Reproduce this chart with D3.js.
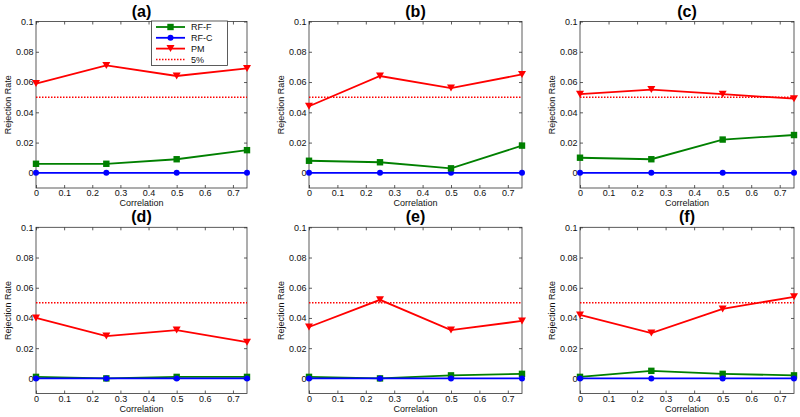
<!DOCTYPE html>
<html><head><meta charset="utf-8">
<script src="https://cdn.jsdelivr.net/npm/d3@7"></script>
<style>body{margin:0;background:#fff}svg{display:block}text{font-family:Arial,"Liberation Sans",sans-serif}</style>
</head><body><svg id="c" width="800" height="417"></svg>
<script>
const correlations = [0, 0.25, 0.5, 0.75];
const panelTitles = ["(a)", "(b)", "(c)", "(d)", "(e)", "(f)"];
const rfF = [
  [0.006, 0.006, 0.009, 0.015],
  [0.008, 0.007, 0.003, 0.018],
  [0.010, 0.009, 0.022, 0.025],
  [0.001, 0.000, 0.001, 0.001],
  [0.001, 0.000, 0.002, 0.003],
  [0.001, 0.005, 0.003, 0.002]
];
const rfC = [
  [0, 0, 0, 0], [0, 0, 0, 0], [0, 0, 0, 0],
  [0, 0, 0, 0], [0, 0, 0, 0], [0, 0, 0, 0]
];
const pm = [
  [0.059, 0.071, 0.064, 0.069],
  [0.044, 0.064, 0.056, 0.065],
  [0.052, 0.055, 0.052, 0.049],
  [0.040, 0.028, 0.032, 0.024],
  [0.034, 0.052, 0.032, 0.038],
  [0.042, 0.030, 0.046, 0.054]
];
const nominal = 0.05;
const xTicks = [0, 0.1, 0.2, 0.3, 0.4, 0.5, 0.6, 0.7];
const yTicks = [0, 0.02, 0.04, 0.06, 0.08, 0.1];
const seriesNames = ["RF-F", "RF-C", "PM", "5%"];

const svg = d3.select("#c");
const panelsX = [[36, 247], [309, 522], [580, 794]];
const panelsY = [[21.5, 188], [227.3, 393.5]];
const colors = {g: "#008000", b: "#0000ff", r: "#ff0000"};
const axisCol = "#333";

function marker(g, type, x, y, col) {
  if (type === "square") {
    g.append("rect").attr("x", x - 3.2).attr("y", y - 3.2).attr("width", 6.4).attr("height", 6.4).attr("fill", col);
  } else if (type === "circle") {
    g.append("circle").attr("cx", x).attr("cy", y).attr("r", 3).attr("fill", col);
  } else {
    g.append("path").attr("d", `M${x-4},${y-3.5}L${x+4},${y-3.5}L${x},${y+3.5}Z`).attr("fill", col);
  }
}

for (let i = 0; i < 6; i++) {
  const col = i % 3, row = Math.floor(i / 3);
  const [x0, x1] = panelsX[col];
  const [y0, y1] = panelsY[row];
  const x = d3.scaleLinear().domain([0, 0.75]).range([x0, x1]);
  const y = d3.scaleLinear().domain([-0.01, 0.1]).range([y1, y0]);
  const g = svg.append("g");

  g.append("rect").attr("x", x0).attr("y", y0).attr("width", x1 - x0).attr("height", y1 - y0)
    .attr("fill", "none").attr("stroke", axisCol).attr("stroke-width", 0.8);

  const xa = g.append("g").attr("transform", `translate(0,${y1})`)
    .call(d3.axisBottom(x).tickValues(xTicks).tickFormat(d3.format("")).tickSizeInner(-3).tickSizeOuter(0).tickPadding(2));
  const xt = g.append("g").attr("transform", `translate(0,${y0})`)
    .call(d3.axisTop(x).tickValues(xTicks).tickFormat("").tickSizeInner(-3).tickSizeOuter(0));
  const ya = g.append("g").attr("transform", `translate(${x0},0)`)
    .call(d3.axisLeft(y).tickValues(yTicks).tickFormat(d3.format("")).tickSizeInner(-3).tickSizeOuter(0).tickPadding(2.5));
  const yr = g.append("g").attr("transform", `translate(${x1},0)`)
    .call(d3.axisRight(y).tickValues(yTicks).tickFormat("").tickSizeInner(-3).tickSizeOuter(0));
  [xa, xt, ya, yr].forEach(a => {
    a.select(".domain").remove();
    a.selectAll("line").attr("stroke", axisCol).attr("stroke-width", 0.8);
    a.selectAll("text").attr("font-size", 9).attr("fill", "#111").attr("font-family", "Arial, Liberation Sans, sans-serif");
  });

  g.append("text").attr("x", (x0 + x1) / 2).attr("y", y1 + 18).attr("text-anchor", "middle")
    .attr("font-size", 9).attr("fill", "#111").text("Correlation");
  const ylx = x0 - 25, yly = (y0 + y1) / 2;
  g.append("text").attr("transform", `translate(${ylx},${yly}) rotate(-90)`).attr("text-anchor", "middle")
    .attr("font-size", 9).attr("fill", "#111").text("Rejection Rate");
  g.append("text").attr("x", (x0 + x1) / 2).attr("y", y0 - 5).attr("text-anchor", "middle")
    .attr("font-size", 16).attr("font-weight", "bold").attr("fill", "#000").text(panelTitles[i]);

  g.append("line").attr("x1", x(0)).attr("x2", x(0.75)).attr("y1", y(nominal)).attr("y2", y(nominal))
    .attr("stroke", colors.r).attr("stroke-width", 1.5).attr("stroke-dasharray", "1.5,1.5");

  const line = d3.line().x((d, j) => x(correlations[j])).y(d => y(d));
  const series = [
    {vals: rfF[i], col: colors.g, m: "square"},
    {vals: rfC[i], col: colors.b, m: "circle"},
    {vals: pm[i], col: colors.r, m: "tri"}
  ];
  const order = row === 1 ? [0, 1, 2] : [1, 0, 2];
  order.forEach(k => {
    const s = series[k];
    g.append("path").attr("d", line(s.vals)).attr("fill", "none").attr("stroke", s.col).attr("stroke-width", 1.8);
    s.vals.forEach((v, j) => marker(g, s.m, x(correlations[j]), y(v), s.col));
  });

  if (i === 0) {
    const lg = g.append("g");
    lg.append("rect").attr("x", 151.5).attr("y", 21).attr("width", 76).attr("height", 44.5)
      .attr("fill", "#fff").attr("stroke", axisCol).attr("stroke-width", 0.8);
    const items = [
      {name: seriesNames[0], col: colors.g, m: "square"},
      {name: seriesNames[1], col: colors.b, m: "circle"},
      {name: seriesNames[2], col: colors.r, m: "tri"},
      {name: seriesNames[3], col: colors.r, m: null}
    ];
    items.forEach((it, k) => {
      const ly = 27 + k * 10.8;
      const l = lg.append("line").attr("x1", 156).attr("x2", 185).attr("y1", ly).attr("y2", ly).attr("stroke", it.col);
      if (it.m) {
        l.attr("stroke-width", 1.8);
        marker(lg, it.m, 170.5, ly, it.col);
      } else {
        l.attr("stroke-width", 1.5).attr("stroke-dasharray", "1.5,1.5");
      }
      lg.append("text").attr("x", 191).attr("y", ly + 3.2).attr("font-size", 9).attr("fill", "#111").text(it.name);
    });
  }
}
</script></body></html>
